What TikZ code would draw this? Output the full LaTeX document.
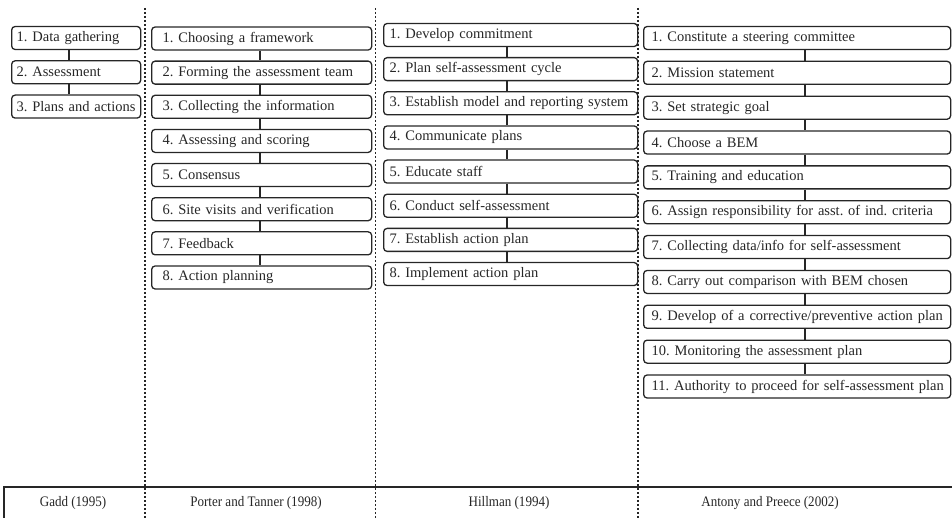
\documentclass[tikz,border=0pt]{standalone}
\usepackage{graphicx}
\usepackage{fontspec}
\setmainfont{Liberation Serif}
\frenchspacing
\begin{document}
\begin{tikzpicture}[x=1pt,y=-1pt,
  stepbox/.style={draw=black!85, text=black!85, rounded corners=3.5pt, line width=1.3pt,
    minimum height=23pt, inner ysep=0pt, anchor=west, align=left,
    font=\fontsize{14.5}{16}\selectfont},
  link/.style={draw=black!85, line width=2.5pt},
  sep/.style={draw=black!85, line width=1.8pt, dash pattern=on 1.8pt off 2.2pt},
  source/.style={text=black!85, font=\fontsize{14.5}{16}\selectfont}]

\useasboundingbox (0,0) rectangle (952,518);

% dotted separators between the four models
\draw[sep] (145,8) -- (145,518);
\draw[sep] (375.5,8) -- (375.5,518);
\draw[sep] (637.7,8) -- (637.7,518);

% x positions of the connecting bars
\coordinate (k1) at (69,0);
\coordinate (k2) at (260,0);
\coordinate (k3) at (507,0);
\coordinate (k4) at (805,0);

% Gadd
\foreach \t [count=\i] in {{1. Data gathering},{2. Assessment},{3. Plans and actions}}
  \node[stepbox, inner xsep=5pt, text width=119pt] (a\i) at (11,{38+(\i-1)*34.3}) {\mbox{\t}};
\foreach \i in {2,3}{
  \pgfmathtruncatemacro\j{\i-1}
  \draw[link] (a\j.south -| k1) -- (a\i.north -| k1);
}

% Porter and Tanner
\foreach \t [count=\i] in {{1. Choosing a framework},{2. Forming the assessment team},
  {3. Collecting the information},{4. Assessing and scoring},{5. Consensus},
  {6. Site visits and verification},{7. Feedback},{8. Action planning}}
  \node[stepbox, inner xsep=11pt, text width=198pt] (b\i) at (151,{38.5+(\i-1)*34.14}) {\mbox{\t}};
\foreach \i in {2,...,8}{
  \pgfmathtruncatemacro\j{\i-1}
  \draw[link] (b\j.south -| k2) -- (b\i.north -| k2);
}

% Hillman
\foreach \t [count=\i] in {{1. Develop commitment},{2. Plan self-assessment cycle},
  {3. Establish model and reporting system},{4. Communicate plans},{5. Educate staff},
  {6. Conduct self-assessment},{7. Establish action plan},{8. Implement action plan}}
  \node[stepbox, inner xsep=6pt, text width=242pt] (c\i) at (383,{35+(\i-1)*34.15}) {\mbox{\t}};
\foreach \i in {2,...,8}{
  \pgfmathtruncatemacro\j{\i-1}
  \draw[link] (c\j.south -| k3) -- (c\i.north -| k3);
}

% Antony and Preece
\foreach \t [count=\i] in {{1. Constitute a steering committee},{2. Mission statement},
  {3. Set strategic goal},{4. Choose a BEM},{5. Training and education},
  {6. Assign responsibility for asst. of ind. criteria},
  {7. Collecting data/info for self-assessment},
  {8. Carry out comparison with BEM chosen},
  {9. Develop of a corrective/preventive action plan},
  {10. Monitoring the assessment plan},
  {11. Authority to proceed for self-assessment plan}}
  \node[stepbox, inner xsep=8pt, text width=291pt] (d\i) at (643,{38+(\i-1)*34.85}) {\mbox{\t}};
\foreach \i in {2,...,11}{
  \pgfmathtruncatemacro\j{\i-1}
  \draw[link] (d\j.south -| k4) -- (d\i.north -| k4);
}

% source row
\draw[draw=black!85, line width=1.6pt] (4,518) -- (4,487) -- (952,487);
\node[source] (s1) at (73,503) {\scalebox{0.9}[1]{Gadd (1995)}};
\node[source] (s2) at (256,503) {\scalebox{0.9}[1]{Porter and Tanner (1998)}};
\node[source] (s3) at (509,503) {\scalebox{0.9}[1]{Hillman (1994)}};
\node[source] (s4) at (770,503) {\scalebox{0.9}[1]{Antony and Preece (2002)}};
\end{tikzpicture}
\end{document}
